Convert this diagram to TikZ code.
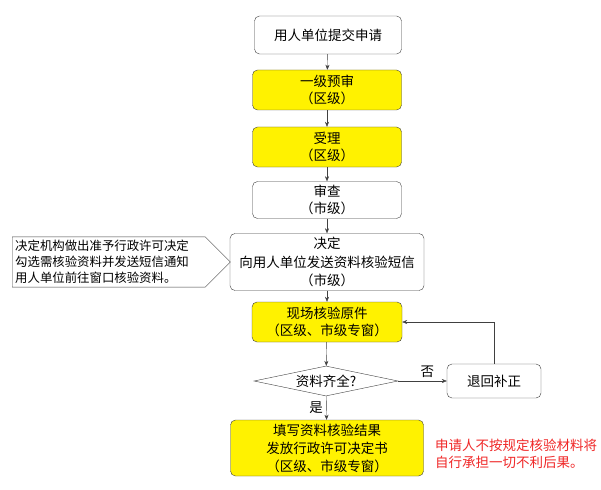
\documentclass[tikz,border=0pt]{standalone}
\usepackage{fontspec}
\newfontfamily\cjk{Noto Sans CJK SC}
\usetikzlibrary{arrows.meta,shapes.geometric,shapes.symbols}
\definecolor{edgegray}{RGB}{64,64,64}
\definecolor{warnred}{RGB}{240,40,40}
\tikzset{
  box/.style={draw=edgegray,rounded corners=5pt,fill=white,align=center,minimum width=149pt,minimum height=40pt,inner sep=2pt},
  hl/.style={fill=yellow},
  decision/.style={draw=edgegray,diamond,aspect=4.8,minimum width=144pt,minimum height=30pt,inner sep=1pt,fill=white},
  callout/.style={draw=edgegray,signal,signal to=east,signal pointer angle=90,align=left,text width=187pt,minimum height=50pt,inner xsep=3pt,font=\cjk\fontsize{12.4}{16}\selectfont},
  arr/.style={draw=edgegray,-{Stealth[length=5pt,width=4pt]}},
}
\begin{document}
\begin{tikzpicture}[x=1pt,y=-1pt,font=\cjk\fontsize{13.5}{17}\selectfont]
	\useasboundingbox[fill=white] (0,0) rectangle (601,489);
	\node[box,minimum width=147pt,minimum height=38pt] (apply) at (328,35) {用人单位提交申请};
	\node[box,hl] (prereview) at (327,90) {一级预审\\（区级）};
	\node[box,hl] (accept) at (327,147) {受理\\（区级）};
	\node[box,minimum height=37pt] (review) at (327,200) {审查\\（市级）};
	\node[box,minimum width=194pt,minimum height=57pt,font=\cjk\fontsize{13.5}{18.5}\selectfont] (decide) at (327,262) {决定\\向用人单位发送资料核验短信\\（市级）};
	\node[callout,anchor=west] (note) at (12,262) {决定机构做出准予行政许可决定\\勾选需核验资料并发送短信通知\\用人单位前往窗口核验资料。};
	\node[box,hl,minimum width=150pt] (verify) at (327,322) {现场核验原件\\（区级、市级专窗）};
	\node[decision] (check) at (326,381) {资料齐全?};
	\node[box,minimum width=94pt,minimum height=34pt] (fix) at (494,381) {退回补正};
	\node[box,hl,minimum width=193pt,minimum height=56pt,font=\cjk\fontsize{13.5}{18}\selectfont] (issue) at (327,448) {填写资料核验结果\\发放行政许可决定书\\（区级、市级专窗）};
	\node[text=warnred,align=left,font=\cjk\fontsize{13.5}{17}\selectfont] (warn) at (516,454) {申请人不按规定核验材料将\\自行承担一切不利后果。};
	% main flow
	\draw[arr] (apply)--(prereview);
	\draw[arr] (prereview)--(accept);
	\draw[arr] (accept)--(review);
	\draw[arr] (review)--(decide);
	\draw[arr] (decide)--(verify);
	\draw[arr] (verify)--(check);
	\draw[arr] (check)--node[above,pos=0.6]{否}(fix);
	\draw[arr] (fix.north)|-(verify.east);
	\draw[arr] (check)--node[left]{是}(issue);
\end{tikzpicture}
\end{document}
